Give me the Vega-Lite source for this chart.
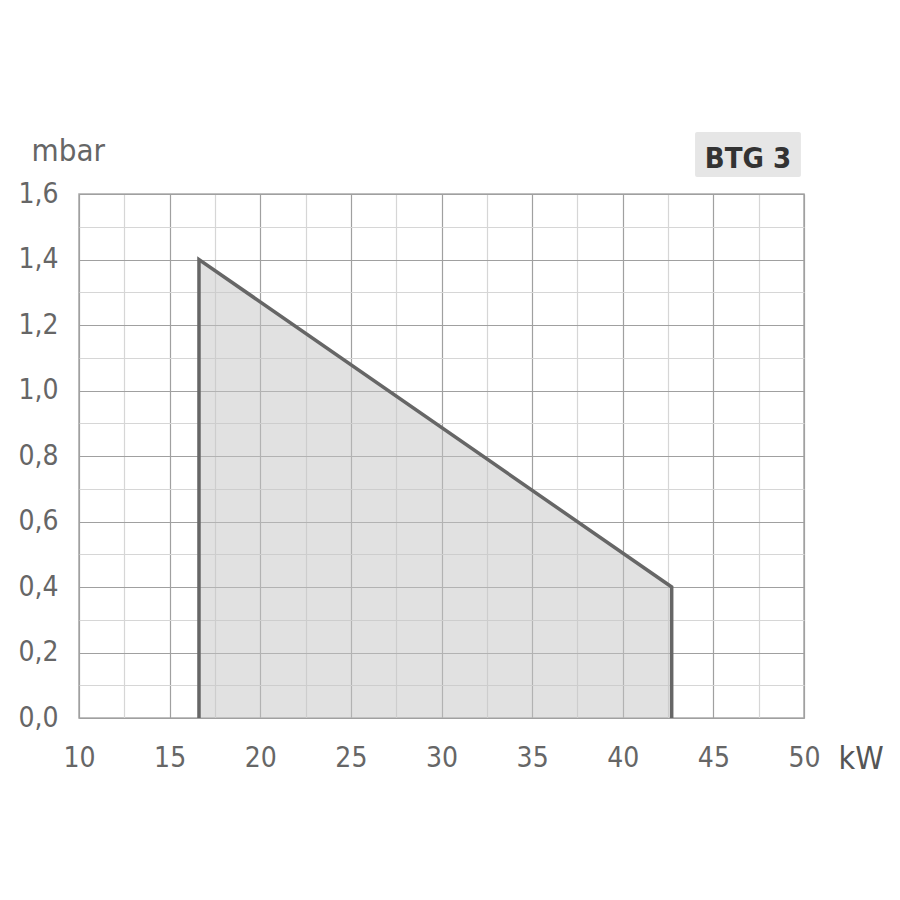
{
  "$schema": "https://vega.github.io/schema/vega-lite/v6.json",
  "width": 725,
  "height": 524,
  "autosize": "none",
  "padding": {"left": 79, "top": 194, "right": 96, "bottom": 182},
  "background": "white",
  "config": {
    "view": {"stroke": "#aaaaaa", "strokeWidth": 1.5},
    "font": "DejaVu Sans Condensed"
  },
  "datasets": {
    "outline": [
      {"kw": 16.62, "mbar": 0, "seq": 1},
      {"kw": 16.62, "mbar": 1.4, "seq": 2},
      {"kw": 42.7, "mbar": 0.4, "seq": 3},
      {"kw": 42.7, "mbar": 0, "seq": 4}
    ],
    "fill": [
      {"kw": 16.62, "mbar": 1.4},
      {"kw": 42.7, "mbar": 0.4}
    ],
    "badge": [
      {"kw0": 43.99, "kw1": 49.83, "y0": 1.652, "y1": 1.789, "kwc": 46.91, "yc": 1.679, "name": "BTG 3"}
    ]
  },
  "encoding": {
    "x": {
      "field": "kw",
      "type": "quantitative",
      "scale": {"domain": [10, 50], "nice": false, "zero": false},
      "axis": {
        "values": [10, 12.5, 15, 17.5, 20, 22.5, 25, 27.5, 30, 32.5, 35, 37.5, 40, 42.5, 45, 47.5, 50],
        "labelExpr": "datum.value % 5 === 0 ? datum.label : ''",
        "grid": true,
        "gridColor": {"condition": {"test": "datum.value % 5 === 0", "value": "#a0a0a0"}, "value": "#d6d6d6"},
        "gridWidth": 1.2,
        "domain": false,
        "ticks": false,
        "labelFontSize": 28,
        "labelColor": "#666666",
        "labelPadding": 26,
        "labelFlush": false,
        "labelOverlap": false,
        "title": "kW",
        "titleFontSize": 32,
        "titleFontWeight": 500,
        "titleColor": "#555555",
        "titleAlign": "left",
        "titleBaseline": "alphabetic",
        "titleX": 759,
        "titleY": 50,
        "titleAnchor": null
      }
    },
    "y": {
      "field": "mbar",
      "type": "quantitative",
      "scale": {"domain": [0, 1.6], "nice": false},
      "axis": {
        "values": [0, 0.1, 0.2, 0.3, 0.4, 0.5, 0.6, 0.7, 0.8, 0.9, 1.0, 1.1, 1.2, 1.3, 1.4, 1.5, 1.6],
        "labelExpr": "round(datum.value * 10) % 2 === 0 ? replace(format(datum.value, '.1f'), '.', ',') : ''",
        "grid": true,
        "gridColor": {"condition": {"test": "round(datum.value * 10) % 2 === 0", "value": "#a0a0a0"}, "value": "#d6d6d6"},
        "gridWidth": 1.2,
        "domain": false,
        "ticks": false,
        "labelFontSize": 28,
        "labelColor": "#666666",
        "labelPadding": 21,
        "labelFlush": false,
        "labelOverlap": false,
        "title": "mbar",
        "titleAngle": 0,
        "titleFontSize": 31,
        "titleFontWeight": "normal",
        "titleColor": "#666666",
        "titleAlign": "left",
        "titleBaseline": "alphabetic",
        "titleX": -48,
        "titleY": -34,
        "titleAnchor": null
      }
    }
  },
  "layer": [
    {
      "data": {"name": "fill"},
      "mark": {"type": "area", "color": "#c4c4c4", "opacity": 0.5}
    },
    {
      "data": {"name": "outline"},
      "mark": {"type": "line", "color": "#666666", "strokeWidth": 3.5, "strokeJoin": "miter"},
      "encoding": {
        "order": {"field": "seq", "type": "quantitative"}
      }
    },
    {
      "data": {"name": "badge"},
      "mark": {"type": "rect", "color": "#e6e6e6", "cornerRadius": 2},
      "encoding": {
        "x": {"field": "kw0", "type": "quantitative"},
        "x2": {"field": "kw1"},
        "y": {"field": "y0", "type": "quantitative"},
        "y2": {"field": "y1"}
      }
    },
    {
      "data": {"name": "badge"},
      "mark": {"type": "text", "color": "#333333", "fontSize": 29, "fontWeight": "bold", "align": "center", "baseline": "alphabetic"},
      "encoding": {
        "x": {"field": "kwc", "type": "quantitative"},
        "y": {"field": "yc", "type": "quantitative"},
        "text": {"field": "name"}
      }
    }
  ]
}
